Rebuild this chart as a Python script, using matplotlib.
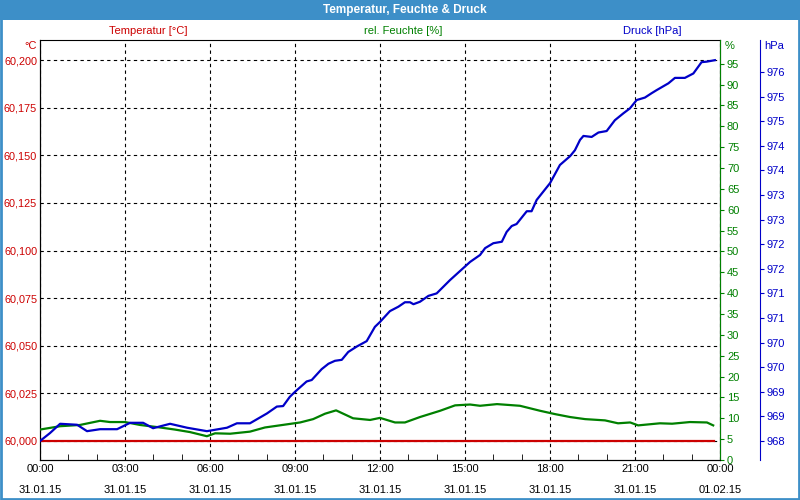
import matplotlib
matplotlib.use('Agg')
import matplotlib.pyplot as plt
from matplotlib.patches import Rectangle

# time in hours since 31.01.15 00:00
temp_hours = [0.0, 23.8]
temp_values = [60.000, 60.000]

hum_hours = [0.0, 0.71, 1.41, 2.12, 2.47, 3.0, 3.53, 4.24, 4.76, 5.29, 5.89, 6.18, 6.71, 7.41,
             7.94, 9.18, 9.64, 10.06, 10.45, 11.05, 11.65, 12.0, 12.53, 12.88, 13.41, 14.12,
             14.65, 15.18, 15.53, 16.13, 16.94, 17.65, 18.18, 18.71, 19.24, 19.94, 20.40,
             20.83, 21.11, 21.88, 22.31, 22.94, 23.54, 23.76]
hum_values = [7.3, 8.1, 8.4, 9.4, 9.1, 9.1, 8.4, 7.8, 7.3, 6.7, 5.7, 6.4, 6.3, 6.8,
              7.8, 9.0, 9.8, 11.1, 11.9, 10.0, 9.6, 10.1, 9.0, 9.0, 10.3, 11.8,
              13.1, 13.3, 13.0, 13.4, 13.0, 11.8, 11.0, 10.3, 9.8, 9.5, 8.8,
              9.0, 8.3, 8.8, 8.7, 9.1, 9.0, 8.3]

press_hours = [0.0, 0.35, 0.71, 1.31, 1.66, 2.12, 2.72, 3.18, 3.64, 3.99, 4.59, 5.19, 5.89,
               6.60, 6.95, 7.41, 8.01, 8.36, 8.58, 8.82, 9.0, 9.41, 9.59, 9.94, 10.18, 10.41,
               10.65, 10.88, 11.18, 11.53, 11.82, 12.0, 12.35, 12.65, 12.88, 13.06, 13.18,
               13.41, 13.71, 14.0, 14.47, 15.18, 15.53, 15.71, 16.0, 16.30, 16.47, 16.65,
               16.82, 17.18, 17.35, 17.53, 18.0, 18.35, 18.71, 18.88, 19.06, 19.18, 19.47,
               19.71, 20.0, 20.29, 20.59, 20.82, 21.06, 21.35, 21.59, 21.76, 22.18, 22.41,
               22.76, 23.06, 23.35, 23.53, 23.82]
press_values = [968.40, 968.56, 968.75, 968.73, 968.60, 968.64, 968.64, 968.77, 968.77, 968.66,
                968.75, 968.67, 968.60, 968.67, 968.76, 968.76, 968.96, 969.10, 969.11, 969.30,
                969.40, 969.61, 969.64, 969.86, 969.97, 970.03, 970.05, 970.21, 970.32, 970.43,
                970.72, 970.82, 971.04, 971.13, 971.22, 971.22, 971.18, 971.23, 971.35, 971.40,
                971.67, 972.04, 972.18, 972.32, 972.42, 972.45, 972.65, 972.77, 972.81, 973.07,
                973.07, 973.30, 973.64, 974.01, 974.19, 974.31, 974.52, 974.60, 974.58, 974.67,
                974.70, 974.92, 975.06, 975.16, 975.33, 975.38, 975.47, 975.53, 975.67, 975.78,
                975.78, 975.87, 976.10, 976.11, 976.14]

x_tick_hours = [0, 3, 6, 9, 12, 15, 18, 21, 24]
x_tick_labels = ['00:00\n31.01.15', '03:00\n31.01.15', '06:00\n31.01.15', '09:00\n31.01.15',
                 '12:00\n31.01.15', '15:00\n31.01.15', '18:00\n31.01.15', '21:00\n31.01.15',
                 '00:00\n01.02.15']
temp_ticks = [60.000, 60.025, 60.050, 60.075, 60.100, 60.125, 60.150, 60.175, 60.200]
temp_tick_labels = ['60,000', '60,025', '60,050', '60,075', '60,100', '60,125', '60,150',
                    '60,175', '60,200']
hum_ticks = list(range(0, 100, 5))
press_ticks = [968.4 + 0.5 * k for k in range(16)]
press_tick_labels = ['968', '969', '969', '970', '970', '971', '971', '972', '972', '973',
                     '973', '974', '974', '975', '975', '976']

RED = '#cc0000'
GREEN = '#008000'
BLUE = '#0000c8'
BAR = '#3d8fc8'

plt.rcParams['font.family'] = ['Liberation Sans', 'DejaVu Sans']
plt.rcParams['font.size'] = 8

fig = plt.figure(figsize=(8, 5), dpi=100)
fig.patch.set_facecolor('white')

# title bar and window frame
fig.patches.append(Rectangle((0, 0.96), 1, 0.04, transform=fig.transFigure,
                             facecolor=BAR, edgecolor='none', zorder=0))
fig.patches.append(Rectangle((0.001, 0.002), 0.998, 0.996, transform=fig.transFigure,
                             facecolor='none', edgecolor=BAR, linewidth=2, zorder=0))
fig.text(0.506, 0.980, 'Temperatur, Feuchte & Druck', color='white', fontweight='bold',
         fontsize=8.5, ha='center', va='center')

ax = fig.add_axes([0.05, 0.08, 0.85, 0.84])
ax.set_xlim(0, 24)
ax.set_ylim(59.990, 60.2106)
ax.plot(temp_hours, temp_values, color=RED, lw=1.6, zorder=5)
ax.set_yticks(temp_ticks, temp_tick_labels)
ax.set_xticks(x_tick_hours, x_tick_labels)
ax.set_xticks(range(0, 25), minor=True)
ax.tick_params(axis='y', length=0, colors=RED, pad=2, labelsize=7.8)
ax.tick_params(axis='x', which='major', length=0, pad=3, labelcolor='black')
ax.tick_params(axis='x', which='minor', direction='in', length=4, color='black')
for lab in ax.get_xticklabels():
    lab.set_linespacing(2.35)
ax.grid(True, color='black', linestyle=(0, (3, 3)), linewidth=0.8)
for s in ['left', 'top', 'bottom']:
    ax.spines[s].set_color('black')

ax2 = ax.twinx()
ax2.set_ylim(0, 100.7)
ax2.plot(hum_hours, hum_values, color=GREEN, lw=1.6, zorder=5)
ax2.set_yticks(hum_ticks)
ax2.tick_params(axis='y', direction='out', length=3, colors=GREEN, pad=2)
ax2.spines['right'].set_color(GREEN)

ax3 = ax.twinx()
ax3.set_ylim(968.014, 976.55)
ax3.plot(press_hours, press_values, color=BLUE, lw=1.6, zorder=6)
ax3.set_yticks(press_ticks, press_tick_labels)
ax3.spines['right'].set_position(('axes', 1.0588))
ax3.spines['right'].set_color(BLUE)
ax3.tick_params(axis='y', direction='out', length=3, colors=BLUE, pad=2)
for s in ['left', 'top', 'bottom']:
    ax3.spines[s].set_visible(False)
ax2.spines['top'].set_visible(False)

# axis headers
fig.text(0.185, 0.937, 'Temperatur [°C]', color=RED, ha='center', va='center')
fig.text(0.504, 0.937, 'rel. Feuchte [%]', color=GREEN, ha='center', va='center')
fig.text(0.815, 0.937, 'Druck [hPa]', color=BLUE, ha='center', va='center')
fig.text(0.046, 0.908, '°C', color=RED, ha='right', va='center')
fig.text(0.906, 0.908, '%', color=GREEN, ha='left', va='center')
fig.text(0.955, 0.908, 'hPa', color=BLUE, ha='left', va='center')

fig.savefig('out.png', dpi=100)
